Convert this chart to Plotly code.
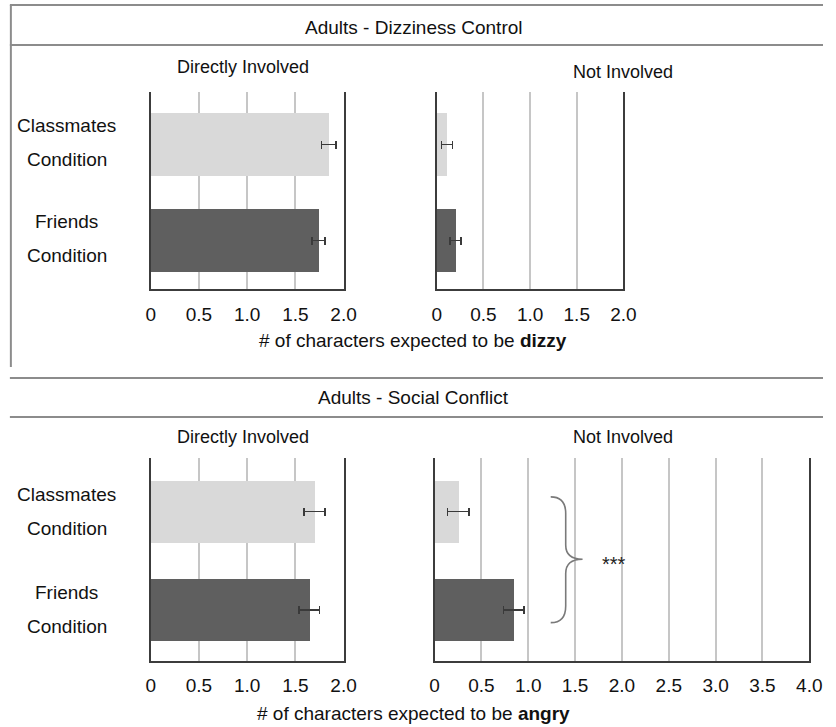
import plotly.graph_objects as go

W, H = 836, 727

conditions = ["Classmates Condition", "Friends Condition"]
cond_line1 = ["Classmates", "Friends"]
cond_line2 = ["Condition", "Condition"]
cat_pos = [0, 1]

# Adults - Dizziness Control
dizzy_direct = [1.845, 1.74]
dizzy_direct_err = [0.075, 0.07]
dizzy_not = [0.11, 0.20]
dizzy_not_err = [0.06, 0.058]

# Adults - Social Conflict
angry_direct = [1.70, 1.645]
angry_direct_err = [0.11, 0.105]
angry_not = [0.255, 0.845]
angry_not_err = [0.115, 0.11]

ticks_2 = [0, 0.5, 1.0, 1.5, 2.0]
ticktext_2 = ["0", "0.5", "1.0", "1.5", "2.0"]
ticks_4 = [0, 0.5, 1.0, 1.5, 2.0, 2.5, 3.0, 3.5, 4.0]
ticktext_4 = ["0", "0.5", "1.0", "1.5", "2.0", "2.5", "3.0", "3.5", "4.0"]

bar_colors = ["#d9d9d9", "#5f5f5f"]
FONT = "Liberation Sans, Arial, Helvetica, sans-serif"
AXIS_COL = "#3c3c3c"
GRID_COL = "#c6c6c6"
PANEL_COL = "#8c8c8c"


def px(x):
    return x / W


def py(y):
    return 1 - y / H


fig = go.Figure()

panels = [
    ("x", "y", dizzy_direct, dizzy_direct_err, 0.656),
    ("x2", "y2", dizzy_not, dizzy_not_err, 0.656),
    ("x3", "y3", angry_direct, angry_direct_err, 0.633),
    ("x4", "y4", angry_not, angry_not_err, 0.633),
]
for xa, ya, vals, errs, bw in panels:
    fig.add_trace(go.Bar(
        x=vals, y=cat_pos, orientation="h", xaxis=xa, yaxis=ya,
        width=bw, marker=dict(color=bar_colors, line=dict(width=0)),
        error_x=dict(type="data", array=errs, color="#3a3a3a",
                     thickness=1.6, width=4),
        showlegend=False, hoverinfo="x",
    ))


def xaxis(domain, rng, tv, tt, anchor):
    return dict(domain=domain, range=rng, tickvals=tv, ticktext=tt,
                anchor=anchor,
                showgrid=True, gridcolor=GRID_COL, gridwidth=1.5,
                zeroline=False, showline=True, linecolor=AXIS_COL,
                linewidth=1.5, ticks="", ticklabelstandoff=7,
                tickfont=dict(family=FONT, size=19, color="#111"),
                fixedrange=True)


def yaxis(domain, rng, anchor):
    return dict(domain=domain, range=rng, anchor=anchor,
                showgrid=False, zeroline=False,
                showline=True, mirror=True, linecolor=AXIS_COL,
                linewidth=1.5, showticklabels=False, ticks="",
                fixedrange=True)


top_y = [py(289), py(92)]
bot_y = [py(660.5), py(458)]
top_rng = [1.505, -0.547]
bot_rng = [1.515, -0.546]

fig.update_layout(
    width=W, height=H, autosize=False,
    margin=dict(l=0, r=0, t=0, b=0),
    paper_bgcolor="white", plot_bgcolor="white",
    bargap=0,
    font=dict(family=FONT, size=18, color="#111"),
    xaxis=xaxis([px(149), px(346)], [0, 2], ticks_2, ticktext_2, "y"),
    yaxis=yaxis(top_y, top_rng, "x"),
    xaxis2=xaxis([px(441.3), px(632)], [0, 2], ticks_2, ticktext_2, "y2"),
    yaxis2=yaxis(top_y, top_rng, "x2"),
    xaxis3=xaxis([px(149), px(346)], [0, 2], ticks_2, ticktext_2, "y3"),
    yaxis3=yaxis(bot_y, bot_rng, "x3"),
    xaxis4=xaxis([px(439), px(822)], [0, 4], ticks_4, ticktext_4, "y4"),
    yaxis4=yaxis(bot_y, bot_rng, "x4"),
)

# panel frame lines
line = dict(color=PANEL_COL, width=2)
shapes = [
    dict(type="line", xref="paper", yref="paper", x0=px(5), x1=1, y0=py(5), y1=py(5), line=line),
    dict(type="line", xref="paper", yref="paper", x0=px(5), x1=1, y0=py(45), y1=py(45), line=line),
    dict(type="line", xref="paper", yref="paper", x0=px(6), x1=px(6), y0=py(5), y1=py(367), line=line),
    dict(type="line", xref="paper", yref="paper", x0=px(5), x1=1, y0=py(378), y1=py(378), line=line),
    dict(type="line", xref="paper", yref="paper", x0=px(5), x1=1, y0=py(417), y1=py(417), line=line),
]
# curly brace spanning the two "Not Involved" social-conflict bars
brace = ("M 1.24,-0.15 Q 1.40,-0.15 1.40,0.02 L 1.40,0.34 "
         "Q 1.40,0.485 1.58,0.485 Q 1.40,0.485 1.40,0.63 "
         "L 1.40,0.96 Q 1.40,1.13 1.24,1.13")
shapes.append(dict(type="path", xref="x4", yref="y4", path=brace,
                   line=dict(color="#7a7a7a", width=1.6)))
fig.update_layout(shapes=shapes)

ann = []


def text(x, y, s, size=18, xref="paper", yref="paper", yshift=0):
    ann.append(dict(x=x, y=y, xref=xref, yref=yref, text=s, showarrow=False,
                    xanchor="center", yanchor="middle", yshift=yshift,
                    font=dict(family=FONT, size=size, color="#111")))


text(px(417.5), py(27), "Adults - Dizziness Control", size=19)
text(px(417.5), py(397), "Adults - Social Conflict", size=19)
text(px(243), py(67), "Directly Involved", size=18)
text(px(632), py(72), "Not Involved", size=18)
text(px(243), py(437), "Directly Involved", size=18)
text(px(632), py(437), "Not Involved", size=18)
text(px(417), py(340), "# of characters expected to be <b>dizzy</b>", size=19)
text(px(417), py(713), "# of characters expected to be <b>angry</b>", size=19)

for ya, s1, s2 in [("y", 19, -15), ("y3", 17, -17)]:
    for c, l1, l2 in zip(cat_pos, cond_line1, cond_line2):
        text(px(63), c, l1, size=19, yref=ya, yshift=s1)
        text(px(63), c, l2, size=19, yref=ya, yshift=s2)

ann.append(dict(x=1.92, y=0.485, xref="x4", yref="y4", text="***",
                showarrow=False, xanchor="center", yanchor="middle",
                yshift=-5, font=dict(family=FONT, size=20, color="#222")))

fig.update_layout(annotations=ann)

fig.write_html(
    "out.html",
    config={"displayModeBar": False, "responsive": False},
    default_width="836px", default_height="727px",
    post_script=("document.body.style.margin='0';"
                 "document.body.style.padding='0';"
                 "document.body.style.overflow='hidden';"
                 "document.documentElement.style.overflow='hidden';"),
)
